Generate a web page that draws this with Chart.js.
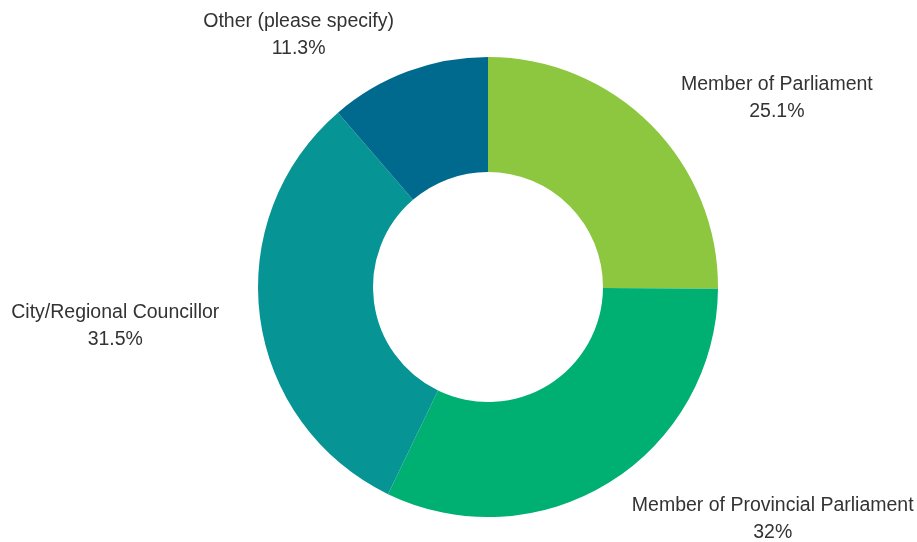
<!DOCTYPE html>
<html>
<head>
<meta charset="utf-8">
<script src="https://cdn.jsdelivr.net/npm/chart.js@4/dist/chart.umd.min.js"></script>
<style>
  html, body { margin: 0; padding: 0; background: #ffffff; }
  #wrap { width: 917px; height: 542px; }
</style>
</head>
<body>
<div id="wrap"><canvas id="c" width="917" height="542"></canvas></div>
<script>
const categories = ["Member of Parliament", "Member of Provincial Parliament", "City/Regional Councillor", "Other (please specify)"];
const values = [25.1, 32, 31.5, 11.3];
const colors = ["#8DC63F", "#00B073", "#079494", "#006A8E"];

const outsideLabels = {
  id: 'outsideLabels',
  afterDatasetsDraw(chart, args, opts) {
    const ctx = chart.ctx;
    const meta = chart.getDatasetMeta(0);
    ctx.save();
    ctx.font = opts.font;
    ctx.fillStyle = opts.color;
    ctx.textBaseline = 'middle';
    meta.data.forEach((arc, i) => {
      const mid = (arc.startAngle + arc.endAngle) / 2;
      const r = arc.outerRadius * opts.radiusFactor;
      const x = arc.x + Math.cos(mid) * r + (opts.xShift[i] || 0);
      const y = arc.y + Math.sin(mid) * r + (opts.yShift[i] || 0);
      const right = Math.cos(mid) >= 0;
      const lines = [chart.data.labels[i], chart.data.datasets[0].data[i] + '%'];
      const widths = lines.map(t => ctx.measureText(t).width);
      const blockW = Math.max(...widths);
      const cx = right ? x + blockW / 2 : x - blockW / 2;
      ctx.textAlign = 'center';
      const lh = opts.lineHeight;
      ctx.fillText(lines[0], cx, y - lh / 2);
      ctx.fillText(lines[1], cx, y + lh / 2);
    });
    ctx.restore();
  }
};

new Chart(document.getElementById('c'), {
  type: 'doughnut',
  data: {
    labels: categories,
    datasets: [{
      data: values,
      backgroundColor: colors,
      borderWidth: 0
    }]
  },
  options: {
    responsive: false,
    animation: false,
    cutout: '50%',
    layout: { padding: { left: 258, right: 199, top: 57, bottom: 25 } },
    plugins: {
      legend: { display: false },
      tooltip: { enabled: false },
      outsideLabels: {
        font: '19.5px "Liberation Sans", Arial, sans-serif',
        color: '#333333',
        radiusFactor: 1.2,
        lineHeight: 27,
        xShift: [-3, -2, 5, 2],
        yShift: [6, -2, 3, 7]
      }
    }
  },
  plugins: [outsideLabels]
});
</script>
</body>
</html>
